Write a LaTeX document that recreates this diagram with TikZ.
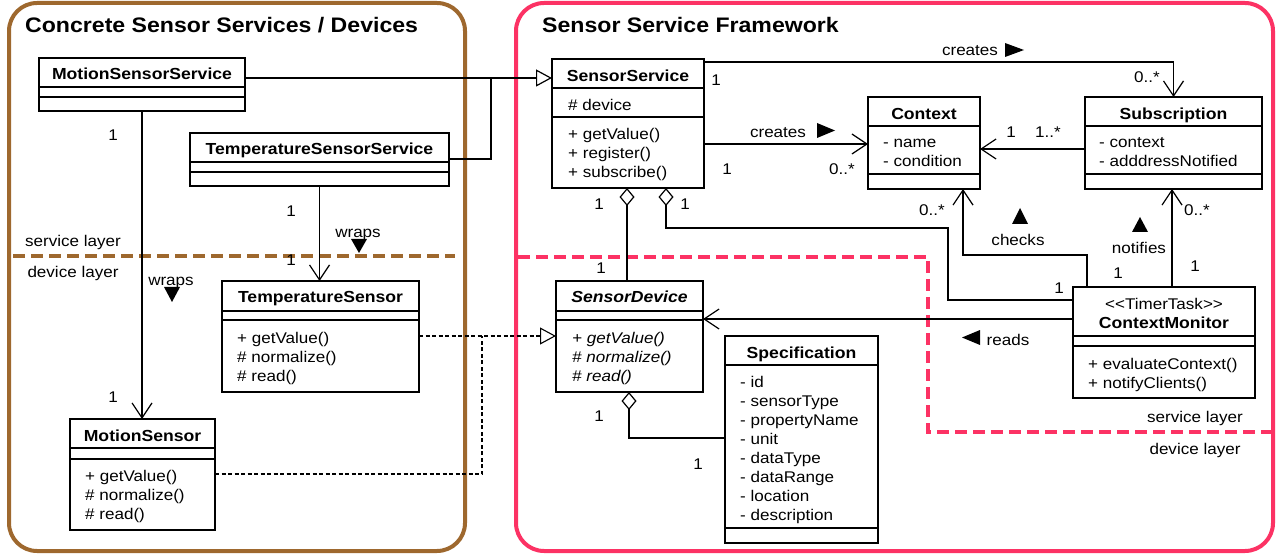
\documentclass[tikz,border=0pt]{standalone}
\usepackage{fontspec}
\setmainfont{Liberation Sans}[FakeStretch=1.1]
\usetikzlibrary{arrows.meta}
\definecolor{brownc}{RGB}{158,104,46}
\definecolor{pinkc}{RGB}{252,50,100}
\newcommand{\rf}{\fontsize{15.5}{19}\selectfont}
\newcommand{\nmf}{\fontsize{16}{19}\selectfont\bfseries}
\newcommand{\ttlf}{\fontsize{21}{25}\selectfont\bfseries}
\newcommand{\mlines}[5]{%
  \foreach \t [count=\i] in {#5} {\node[txl,#4] (#1\i) at (#2,{#3+(\i-1)*19}) {\t};}}
\begin{document}
\begin{tikzpicture}[x=1pt,y=-1pt,
  cls/.style={draw, line width=2.8pt, fill=white, inner sep=0pt, outer sep=0pt, anchor=north west},
  cmp/.style={line width=1.3pt},
  conn/.style={line width=1.2pt},
  opn/.style={-{Straight Barb[length=15pt,width=20pt]}},
  gen/.style={-{Triangle[open,length=16pt,width=17pt,fill=white]}},
  agg/.style={{Diamond[open,length=18pt,width=15pt,fill=white]}-},
  real/.style={line width=1.1pt, dash pattern=on 4pt off 2.5pt},
  tx/.style={inner sep=0pt, anchor=base, font=\rf},
  txl/.style={inner sep=0pt, anchor=base west, font=\rf},
  nm/.style={inner sep=0pt, anchor=base, font=\nmf},
  frame/.style={line width=4pt, rounded corners=28pt},
  layer/.style={line width=3.5pt, dash pattern=on 12pt off 6pt}]
\useasboundingbox (0,0) rectangle (1278,556);
% frames
\draw[frame, brownc] (9,3) rectangle (465,551);
\draw[frame, pinkc] (516,3) rectangle (1273,551);
\node[inner sep=0pt, anchor=base west, font=\ttlf] (t1) at (25,33) {Concrete Sensor Services / Devices};
\node[inner sep=0pt, anchor=base west, font=\ttlf] (t2) at (542,33) {Sensor Service Framework};
% layers
\draw[layer, brownc] (13,256) -- (455,256);
\draw[layer, pinkc] (518,257) -- (928,257) -- (928,432) -- (1271,432);
% classes
\node[cls, minimum width=206pt, minimum height=53pt] (mss) at (39,58) {};
\draw[cmp] (mss.west |- 0,87) -- (mss.east |- 0,87);
\draw[cmp] (mss.west |- 0,97) -- (mss.east |- 0,97);
\node[nm] (mssn) at (142,79.5) {MotionSensorService};

\node[cls, minimum width=259pt, minimum height=53pt] (tss) at (190,133) {};
\draw[cmp] (tss.west |- 0,162) -- (tss.east |- 0,162);
\draw[cmp] (tss.west |- 0,172) -- (tss.east |- 0,172);
\node[nm] (tssn) at (319.5,155) {TemperatureSensorService};

\node[cls, minimum width=197pt, minimum height=111pt] (ts) at (222,281) {};
\draw[cmp] (ts.west |- 0,311) -- (ts.east |- 0,311);
\draw[cmp] (ts.west |- 0,320) -- (ts.east |- 0,320);
\node[nm] (tsn) at (320.5,303) {TemperatureSensor};
\mlines{tsm}{237}{343.5}{}{+ getValue(),\# normalize(),\# read()}

\node[cls, minimum width=145pt, minimum height=111pt] (ms) at (70,419) {};
\draw[cmp] (ms.west |- 0,448) -- (ms.east |- 0,448);
\draw[cmp] (ms.west |- 0,459) -- (ms.east |- 0,459);
\node[nm] (msn) at (142.5,441) {MotionSensor};
\mlines{msm}{85}{481}{}{+ getValue(),\# normalize(),\# read()}

\node[cls, minimum width=152pt, minimum height=129pt] (ss) at (552,59) {};
\draw[cmp] (ss.west |- 0,88) -- (ss.east |- 0,88);
\draw[cmp] (ss.west |- 0,117) -- (ss.east |- 0,117);
\node[nm] (ssn) at (628,82) {SensorService};
\node[txl] (ssa) at (568,110.5) {\# device};
\mlines{ssm}{568}{139.5}{}{+ getValue(),+ register(),+ subscribe()}

\node[cls, minimum width=112pt, minimum height=92pt] (ctx) at (868,97) {};
\draw[cmp] (ctx.west |- 0,126) -- (ctx.east |- 0,126);
\draw[cmp] (ctx.west |- 0,174) -- (ctx.east |- 0,174);
\node[nm] (ctxn) at (924,119.5) {Context};
\mlines{ctxa}{883}{148}{}{- name,- condition}

\node[cls, minimum width=177pt, minimum height=92pt] (sub) at (1085,97) {};
\draw[cmp] (sub.west |- 0,126) -- (sub.east |- 0,126);
\draw[cmp] (sub.west |- 0,174) -- (sub.east |- 0,174);
\node[nm] (subn) at (1173.5,119.5) {Subscription};
\mlines{suba}{1099}{148}{}{- context,- adddressNotified}

\node[cls, minimum width=147pt, minimum height=111pt] (sd) at (556,281) {};
\draw[cmp] (sd.west |- 0,311) -- (sd.east |- 0,311);
\draw[cmp] (sd.west |- 0,320) -- (sd.east |- 0,320);
\node[nm, font=\nmf\itshape] (sdn) at (629.5,303) {SensorDevice};
\mlines{sdm}{572}{343}{font=\rf\itshape}{+ getValue(),\# normalize(),\# read()}

\node[cls, minimum width=153pt, minimum height=207pt] (spec) at (725,336) {};
\draw[cmp] (spec.west |- 0,365) -- (spec.east |- 0,365);
\draw[cmp] (spec.west |- 0,528) -- (spec.east |- 0,528);
\node[nm] (specn) at (801.5,358) {Specification};
\mlines{speca}{740}{387}{}{- id,- sensorType,- propertyName,- unit,- dataType,- dataRange,- location,- description}

\node[cls, minimum width=182pt, minimum height=111pt] (cm) at (1073,287) {};
\draw[cmp] (cm.west |- 0,336) -- (cm.east |- 0,336);
\draw[cmp] (cm.west |- 0,346) -- (cm.east |- 0,346);
\node[tx] (cms) at (1164,309) {<{}<TimerTask>{}>};
\node[nm] (cmn) at (1164,329) {ContextMonitor};
\mlines{cmm}{1088}{369}{}{+ evaluateContext(),+ notifyClients()}

% connectors
\coordinate (j1) at (491,78);
\coordinate (j2) at (482,336);
\coordinate (c1) at (948,228);
\coordinate (c2) at (963,255);
\draw[conn, gen] (mss.east |- 0,78) -- (ss.west |- 0,78);
\draw[conn] (tss.east |- 0,159) -| (j1);
\draw[conn, opn] (mss.south) -- (mss.south |- ms.north);
\draw[conn, opn] (tss.south) -- (tss.south |- ts.north);
\draw[real, gen] (ts.east |- j2) -- (sd.west |- j2);
\draw[real] (ms.east |- 0,474) -| (j2);
\draw[conn, opn] (ss.east |- 0,62) -| (sub.north);
\draw[conn, opn] (ss.east |- 0,144) -- (ctx.west |- 0,144);
\draw[conn, opn] (sub.west |- 0,149) -- (ctx.east |- 0,149);
\draw[conn, agg] (ss.south -| 627,0) -- (sd.north -| 627,0);
\draw[conn, agg] (ss.south -| 666,0) |- (c1) |- (cm.west |- 0,300);
\draw[conn, opn] (cm.north -| 1087,0) |- (c2) -- (ctx.south -| c2);
\draw[conn, opn] (cm.north -| 1172,0) -- (sub.south -| 1172,0);
\draw[conn, opn] (cm.west |- 0,319) -- (sd.east |- 0,319);
\draw[conn, agg] (sd.south -| 629,0) |- (spec.west |- 0,438);
% direction marks
\fill (351,239) -- (367,239) -- (359,253) -- cycle;
\fill (164,287) -- (180,287) -- (172,302) -- cycle;
\fill (1005,43) -- (1005,57) -- (1024,50) -- cycle;
\fill (817,123) -- (817,138) -- (835,130.5) -- cycle;
\fill (1012,224) -- (1028,224) -- (1020,208) -- cycle;
\fill (1132,232) -- (1148,232) -- (1140,217) -- cycle;
\fill (980,330) -- (980,345) -- (962,337.5) -- cycle;
% labels
\node[tx] (l1) at (113,140.5) {1};
\node[tx] (l2) at (113,402.5) {1};
\node[tx] (l3) at (291,216.5) {1};
\node[tx] (l4) at (291,265.5) {1};
\node[tx] (l5) at (358,237.5) {wraps};
\node[tx] (l6) at (171,285.5) {wraps};
\node[tx] (l7) at (73,246.5) {service layer};
\node[tx] (l8) at (73,277.5) {device layer};
\node[tx] (l9) at (970,55.5) {creates};
\node[tx] (l10) at (1147,82.5) {0..*};
\node[tx] (l11) at (716,85.5) {1};
\node[tx] (l12) at (778,137.5) {creates};
\node[tx] (l13) at (727,174.5) {1};
\node[tx] (l14) at (842,174.5) {0..*};
\node[tx] (l15) at (1011,137.5) {1};
\node[tx] (l16) at (1048,137.5) {1..*};
\node[tx] (l17) at (932,215.5) {0..*};
\node[tx] (l18) at (1197,215.5) {0..*};
\node[tx] (l19) at (1018,245.5) {checks};
\node[tx] (l20) at (1139,253.5) {notifies};
\node[tx] (l21) at (1118,278.5) {1};
\node[tx] (l22) at (1195,271.5) {1};
\node[tx] (l23) at (1059,293.5) {1};
\node[tx] (l24) at (1008,345.5) {reads};
\node[tx] (l25) at (1195,422.5) {service layer};
\node[tx] (l26) at (1195,454.5) {device layer};
\node[tx] (l27) at (599,209.5) {1};
\node[tx] (l28) at (685,209.5) {1};
\node[tx] (l29) at (601,273.5) {1};
\node[tx] (l30) at (599,421.5) {1};
\node[tx] (l31) at (698,469.5) {1};
\end{tikzpicture}
\end{document}
